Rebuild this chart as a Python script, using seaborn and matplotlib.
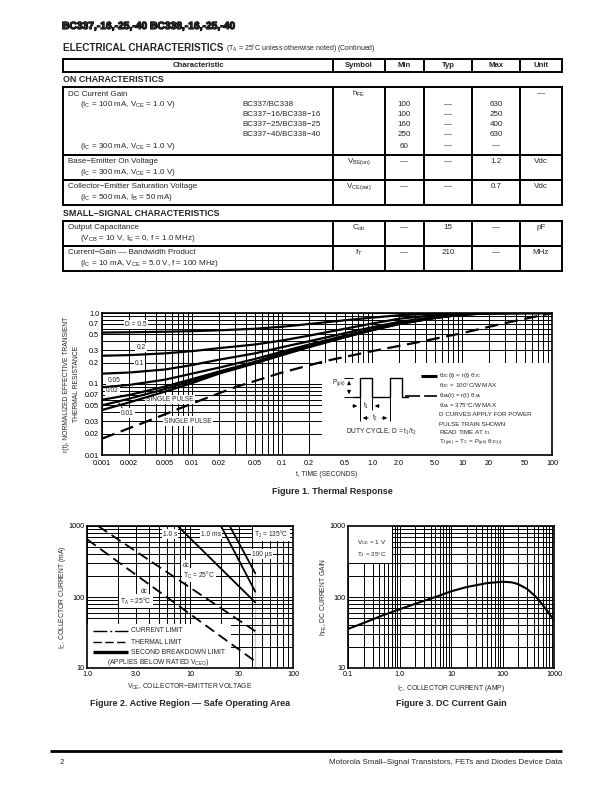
import numpy as np
import pandas as pd
import matplotlib
matplotlib.use("Agg")
import matplotlib.pyplot as plt
import matplotlib.patheffects as pe
from matplotlib.patches import Rectangle
from matplotlib.ticker import FixedLocator, LogLocator, NullFormatter
import seaborn as sns

sns.set_theme(style="white")
plt.rcParams['font.family'] = ['Liberation Sans', 'DejaVu Sans']
plt.rcParams['mathtext.fontset'] = 'custom'
plt.rcParams['mathtext.rm'] = 'Liberation Sans'
plt.rcParams['mathtext.it'] = 'Liberation Sans:italic'
plt.rcParams['mathtext.bf'] = 'Liberation Sans:bold'
plt.rcParams['mathtext.default'] = 'regular'

# ---------------- table data ----------------
table_heads = ["Characteristic", "Symbol", "Min", "Typ", "Max", "Unit"]
hfe_parts = ["BC337/BC338", "BC337−16/BC338−16", "BC337−25/BC338−25", "BC337−40/BC338−40"]
hfe_min = ["100", "100", "160", "250", "60"]
hfe_typ = ["—", "—", "—", "—", "—"]
hfe_max = ["630", "250", "400", "630", "—"]

row_titles = ["Base−Emitter On Voltage", "Collector−Emitter Saturation Voltage",
              "Output Capacitance", "Current−Gain — Bandwidth Product"]
row_conds = [r"(I$_C$ = 300 mA, V$_{CE}$ = 1.0 V)", r"(I$_C$ = 500 mA, I$_B$ = 50 mA)",
             r"(V$_{CB}$ = 10 V, I$_E$ = 0, f = 1.0 MHz)",
             r"(I$_C$ = 10 mA, V$_{CE}$ = 5.0 V, f = 100 MHz)"]
row_symbols = [r"V$_{BE(on)}$", r"V$_{CE(sat)}$", r"C$_{ob}$", r"f$_T$"]
row_min = ["—", "—", "—", "—"]
row_typ = ["—", "—", "15", "210"]
row_max = ["1.2", "0.7", "—", "—"]
row_unit = ["Vdc", "Vdc", "pF", "MHz"]

# ---------------- figure 1: thermal response ----------------
t_time = [0.001, 0.002, 0.005, 0.01, 0.02, 0.05, 0.1, 0.2, 0.5, 1, 2, 5, 10, 20, 50, 100]
r_d50 = [0.53, 0.535, 0.545, 0.555, 0.57, 0.6, 0.64, 0.7, 0.79, 0.86, 0.93, 0.98, 1.0, 1.0, 1.0, 1.0]
r_d20 = [0.25, 0.255, 0.27, 0.29, 0.32, 0.36, 0.41, 0.48, 0.6, 0.71, 0.83, 0.93, 0.98, 1.0, 1.0, 1.0]
r_d10 = [0.14, 0.145, 0.16, 0.185, 0.22, 0.27, 0.33, 0.4, 0.52, 0.63, 0.75, 0.88, 0.96, 1.0, 1.0, 1.0]
r_d05 = [0.09, 0.097, 0.115, 0.14, 0.17, 0.225, 0.285, 0.36, 0.48, 0.59, 0.72, 0.86, 0.95, 0.99, 1.0, 1.0]
r_d02 = [0.06, 0.07, 0.092, 0.117, 0.15, 0.205, 0.27, 0.345, 0.465, 0.58, 0.71, 0.86, 0.95, 0.99, 1.0, 1.0]
r_d01 = [0.05, 0.062, 0.085, 0.11, 0.145, 0.2, 0.26, 0.335, 0.46, 0.575, 0.7, 0.85, 0.95, 0.99, 1.0, 1.0]
r_single = [0.043, 0.055, 0.078, 0.103, 0.14, 0.195, 0.255, 0.33, 0.455, 0.57, 0.7, 0.85, 0.95, 0.99, 1.0, 1.0]
t_ja = [0.001, 0.003, 0.01, 0.03, 0.1, 0.3, 1, 3, 10, 30, 100]
r_ja = [0.017, 0.029, 0.053, 0.09, 0.145, 0.21, 0.29, 0.38, 0.52, 0.72, 1.0]

f1_xticks = [0.001, 0.002, 0.005, 0.01, 0.02, 0.05, 0.1, 0.2, 0.5, 1, 2, 5, 10, 20, 50, 100]
f1_xlabels = ["0.001", "0.002", "0.005", "0.01", "0.02", "0.05", "0.1", "0.2", "0.5",
              "1.0", "2.0", "5.0", "10", "20", "50", "100"]
f1_yticks = [0.01, 0.02, 0.03, 0.05, 0.07, 0.1, 0.2, 0.3, 0.5, 0.7, 1.0]
f1_ylabels = ["0.01", "0.02", "0.03", "0.05", "0.07", "0.1", "0.2", "0.3", "0.5", "0.7", "1.0"]

# ---------------- figure 2: safe operating area ----------------
v_ta = [1.0, 43]; i_ta = [650, 12.4]
v_tc = [1.28, 43]; i_tc = [1000, 33]
v_1s = [7.6, 43]; i_1s = [1000, 84]
v_1ms = [20, 43]; i_1ms = [1000, 119]
v_100us = [24.3, 43]; i_100us = [1000, 216]
v_sb = [43, 43]; i_sb = [216, 10]

f2_xticks = [1, 3, 10, 30, 100]
f2_xlabels = ["1.0", "3.0", "10", "30", "100"]
f2_yticks = [10, 100, 1000]
f2_ylabels = ["10", "100", "1000"]

# ---------------- figure 3: dc current gain ----------------
ic_amp = [0.1, 0.2, 0.5, 1, 2, 5, 10, 20, 50, 100, 150, 200, 300, 400, 500, 700, 1000]
hfe = [35.5, 43, 56, 67, 80, 100, 120, 138, 157, 164, 161, 152, 130, 108, 92, 67, 47]

f3_xticks = [0.1, 1, 10, 100, 1000]
f3_xlabels = ["0.1", "1.0", "10", "100", "1000"]

W, H = 612, 792
fig = plt.figure(figsize=(W / 100, H / 100), dpi=100)


def fax(x0, y0, x1, y1):
    return fig.add_axes([x0 / W, 1 - y1 / H, (x1 - x0) / W, (y1 - y0) / H])


def log_grid(ax, xlim, ylim, xt, xl, yt, yl):
    ax.set_xscale('log')
    ax.set_yscale('log')
    ax.set_xlim(*xlim)
    ax.set_ylim(*ylim)
    for axis, t in ((ax.xaxis, xt), (ax.yaxis, yt)):
        axis.set_major_locator(FixedLocator(t))
        axis.set_minor_locator(LogLocator(base=10, subs=np.arange(1, 10), numticks=100))
        axis.set_minor_formatter(NullFormatter())
    ax.set_xticklabels(xl)
    ax.set_yticklabels(yl)
    ax.grid(which='both', color='black', lw=0.7)
    ax.set_axisbelow(True)
    ax.tick_params(which='both', length=0, labelsize=5.2, pad=2, colors='black')
    ax.set_xlabel('')
    ax.set_ylabel('')
    for s in ax.spines.values():
        s.set_linewidth(1.2)
        s.set_color('black')


lab_box = dict(facecolor='white', edgecolor='none', pad=0.8)

# ---- Figure 1 ----
ax1 = fax(102, 313, 552, 455)
solid_curves = [r_d50, r_d20, r_d10, r_d05, r_d02, r_d01, r_single]
for r in solid_curves:
    sns.lineplot(x=t_time, y=r, ax=ax1, color='black', lw=1.6, zorder=3)
sns.lineplot(x=t_ja, y=r_ja, ax=ax1, color='black', lw=1.6, linestyle=(0, (6, 3)), zorder=3)
log_grid(ax1, (0.001, 100), (0.01, 1.0), f1_xticks, f1_xlabels, f1_yticks, f1_ylabels)
ax1.tick_params(axis='x', pad=3.5)
ax1.add_patch(Rectangle((0.28, 0.01), 100 - 0.28, 0.2 - 0.01, facecolor='white',
                        edgecolor='none', zorder=1))
for s, x, y in [("D = 0.5", 0.00236, 0.69), ("0.2", 0.0027, 0.33), ("0.1", 0.0026, 0.197),
                ("0.05", 0.00135, 0.112), ("0.02", 0.0013, 0.08), ("0.01", 0.0019, 0.039),
                ("SINGLE PULSE", 0.0057, 0.061), ("SINGLE PULSE", 0.009, 0.030)]:
    ax1.text(x, y, s, fontsize=4.8, ha='center', va='center', bbox=lab_box, zorder=2)
ax1.plot([0.00168, 0.00147], [0.046, 0.059], color='black', lw=0.6, zorder=3)

# ---- Figure 2 ----
ax2 = fax(87, 526, 293, 668)
sns.lineplot(x=v_ta, y=i_ta, ax=ax2, color='black', lw=1.3, linestyle=(0, (6, 3)), zorder=3)
sns.lineplot(x=v_tc, y=i_tc, ax=ax2, color='black', lw=1.3, linestyle=(0, (6, 3)), zorder=3)
for v, i in [(v_1s, i_1s), (v_1ms, i_1ms), (v_100us, i_100us)]:
    sns.lineplot(x=v, y=i, ax=ax2, color='black', lw=1.3, zorder=3)
sns.lineplot(x=v_sb, y=i_sb, ax=ax2, color='black', lw=2.6, zorder=3)
log_grid(ax2, (1, 100), (10, 1000), f2_xticks, f2_xlabels, f2_yticks, f2_ylabels)
ax2.add_patch(Rectangle((1.0, 10), 24, 32, facecolor='white', edgecolor='none', zorder=1))
for s, x, y in [("1.0 s", 6.4, 771), ("1.0 ms", 16, 771), (r"T$_J$ = 135°C", 62, 771),
                (r"100 µs", 49.6, 403), ("dc", 9.1, 282), (r"T$_C$ = 25°C", 12.1, 204),
                ("dc", 3.6, 121), (r"T$_A$ = 25°C", 2.97, 88)]:
    ax2.text(x, y, s, fontsize=4.8, ha='center', va='center', bbox=lab_box, zorder=2)

# ---- Figure 3 ----
ax3 = fax(348, 526, 554, 668)
sns.lineplot(x=ic_amp, y=hfe, ax=ax3, color='black', lw=1.5, zorder=3)
log_grid(ax3, (0.1, 1000), (10, 1000), f3_xticks, f3_xlabels, f2_yticks, f2_ylabels)
ax3.add_patch(Rectangle((0.1, 300), 0.6, 700, facecolor='white', edgecolor='none', zorder=1))
ax3.text(0.147, 580, r"V$_{CE}$ = 1 V", fontsize=4.6, ha='left', va='center', zorder=2)
ax3.text(0.147, 400, r"T$_J$ = 25°C", fontsize=4.6, ha='left', va='center', zorder=2)

# ---------------- page overlay (pixel coords) ----------------
page = fig.add_axes([0, 0, 1, 1], zorder=5)
page.set_xlim(0, W)
page.set_ylim(H, 0)
page.axis('off')


def txt(x, y, s, size=5.8, **kw):
    kw.setdefault('va', 'center')
    page.text(x, y, s, fontsize=size, **kw)


def hline(x0, x1, y, lw=1.4, **kw):
    page.plot([x0, x1], [y, y], color='black', lw=lw, solid_capstyle='butt', **kw)


def vline(x, y0, y1, lw=1.4, **kw):
    page.plot([x, x], [y0, y1], color='black', lw=lw, solid_capstyle='butt', **kw)


txt(62, 26, "BC337,-16,-25,-40 BC338,-16,-25,-40", size=7.4, weight='bold',
    path_effects=[pe.withStroke(linewidth=0.8, foreground='black')])
txt(63, 48, "ELECTRICAL CHARACTERISTICS", size=7.2, weight='bold')
txt(226, 48.5, r"(T$_A$ = 25°C unless otherwise noted) (Continued)", size=5.0)

col_x = [63, 333, 385, 424, 472, 520, 562]
col_c = [(col_x[k] + col_x[k + 1]) / 2 for k in range(6)]


def box(y0, y1):
    hline(col_x[0] - 0.7, col_x[-1] + 0.7, y0)
    hline(col_x[0] - 0.7, col_x[-1] + 0.7, y1)
    for x in col_x:
        vline(x, y0, y1)


box(59, 72)
for k, h in enumerate(table_heads):
    txt(col_c[k], 65.5, h, size=5.6, weight='bold', ha='center')

txt(63, 79.5, "ON CHARACTERISTICS", size=6.4, weight='bold')
box(87, 155)
txt(68, 94, "DC Current Gain")
txt(80, 105, r"(I$_C$ = 100 mA, V$_{CE}$ = 1.0 V)")
txt(80, 146, r"(I$_C$ = 300 mA, V$_{CE}$ = 1.0 V)")
for k, p in enumerate(hfe_parts):
    txt(242, 105 + 10 * k, p)
txt(col_c[1], 94, r"h$_{FE}$", ha='center')
txt(col_c[5], 94, "—", ha='center')
for k, ry in enumerate([105, 115, 125, 135, 146]):
    txt(col_c[2], ry, hfe_min[k], ha='center')
    txt(col_c[3], ry, hfe_typ[k], ha='center')
    txt(col_c[4], ry, hfe_max[k], ha='center')

row_tops = [155, 180, 221, 246]
box(155, 180)
box(180, 205)
txt(63, 213, "SMALL–SIGNAL CHARACTERISTICS", size=6.4, weight='bold')
box(221, 246)
box(246, 271)
for k, y0 in enumerate(row_tops):
    txt(68, y0 + 6.5, row_titles[k])
    txt(80, y0 + 17.5, row_conds[k])
    txt(col_c[1], y0 + 6.5, row_symbols[k], ha='center')
    for c, vals in zip(range(2, 6), [row_min, row_typ, row_max, row_unit]):
        txt(col_c[c], y0 + 6.5, vals[k], ha='center')

# figure 1 annotations
txt(327, 474, "t, TIME (SECONDS)", size=4.9, ha='center')
txt(66, 384, "r(t), NORMALIZED EFFECTIVE TRANSIENT", size=4.9, ha='center', rotation=90)
txt(76, 384, "THERMAL RESISTANCE", size=4.9, ha='center', rotation=90)
txt(332, 491, "Figure 1. Thermal Response", size=6.5, weight='bold', ha='center')

hline(421, 437, 376, lw=2.2)
page.plot([405, 437], [396, 396], color='black', lw=1.2, linestyle=(0, (9, 2.5)))
leg1 = [(375.5, r"θ$_{JC}$(t) = r(t) θ$_{JC}$"), (385.5, r"θ$_{JC}$ = 100°C/W MAX"),
        (395.5, r"θ$_{JA}$(t) = r(t) θ$_{JA}$"), (405.5, r"θ$_{JA}$ = 375°C/W MAX"),
        (414.5, "D CURVES APPLY FOR POWER"), (424, "PULSE TRAIN SHOWN"),
        (433, r"READ TIME AT t$_1$"), (443, r"T$_{J(pk)}$ − T$_C$ = P$_{(pk)}$ θ$_{JC(t)}$")]
for y, s in leg1:
    txt(439, y, s, size=4.5)

# pulse train sketch
page.plot([353, 360, 360, 372, 372, 390, 390, 402, 402, 408],
          [397, 397, 378, 378, 397, 397, 378, 378, 397, 397], color='black', lw=1.0)
hline(344, 353, 378, lw=0.7)
hline(344, 353, 397, lw=0.7)
arrow = dict(arrowstyle='-|>', color='black', lw=0.7, mutation_scale=5)
page.annotate("", xy=(349, 378), xytext=(349, 387.5), arrowprops=arrow)
page.annotate("", xy=(349, 397), xytext=(349, 387.5), arrowprops=arrow)
txt(339, 383, r"P$_{(pk)}$", size=4.7, ha='center')
vline(360, 397, 421, lw=0.7)
vline(372, 397, 410, lw=0.7)
vline(390, 397, 421, lw=0.7)
page.annotate("", xy=(360, 406), xytext=(350, 406), arrowprops=arrow)
page.annotate("", xy=(372, 406), xytext=(382, 406), arrowprops=arrow)
txt(366, 406, r"t$_1$", size=4.7, ha='center')
page.annotate("", xy=(360, 418), xytext=(371, 418), arrowprops=arrow)
page.annotate("", xy=(390, 418), xytext=(379, 418), arrowprops=arrow)
txt(375, 418, r"t$_2$", size=4.7, ha='center')
txt(381, 432, r"DUTY CYCLE, D = t$_1$/t$_2$", size=4.8, ha='center')

# figure 2 annotations
page.plot([93, 128], [631, 631], color='black', lw=1.0, linestyle=(0, (10, 2, 1.5, 2)))
page.plot([93, 128], [642, 642], color='black', lw=1.0, linestyle=(0, (6, 2.5)))
hline(93, 128, 652, lw=2.4)
txt(131, 631, "CURRENT LIMIT", size=4.9)
txt(131, 642, "THERMAL LIMIT", size=4.9)
txt(131, 652, "SECOND BREAKDOWN LIMIT", size=4.9)
txt(107, 663, r"(APPLIES BELOW RATED V$_{CEO}$)", size=4.9)
txt(190, 687, r"V$_{CE}$, COLLECTOR−EMITTER VOLTAGE", size=4.9, ha='center')
txt(63, 597, r"I$_C$, COLLECTOR CURRENT (mA)", size=4.9, ha='center', rotation=90)
txt(190, 704, "Figure 2. Active Region — Safe Operating Area", size=6.5, weight='bold', ha='center')

# figure 3 annotations
txt(451, 688, r"I$_C$, COLLECTOR CURRENT (AMP)", size=4.9, ha='center')
txt(324, 597, r"h$_{FE}$, DC CURRENT GAIN", size=4.9, ha='center', rotation=90)
txt(451, 704, "Figure 3. DC Current Gain", size=6.5, weight='bold', ha='center')

# footer
hline(50, 562, 751, lw=2.0)
txt(60, 763, "2", size=5.8)
txt(562, 763, "Motorola Small–Signal Transistors, FETs and Diodes Device Data", size=5.8, ha='right')

fig.savefig("out.png", dpi=100)
